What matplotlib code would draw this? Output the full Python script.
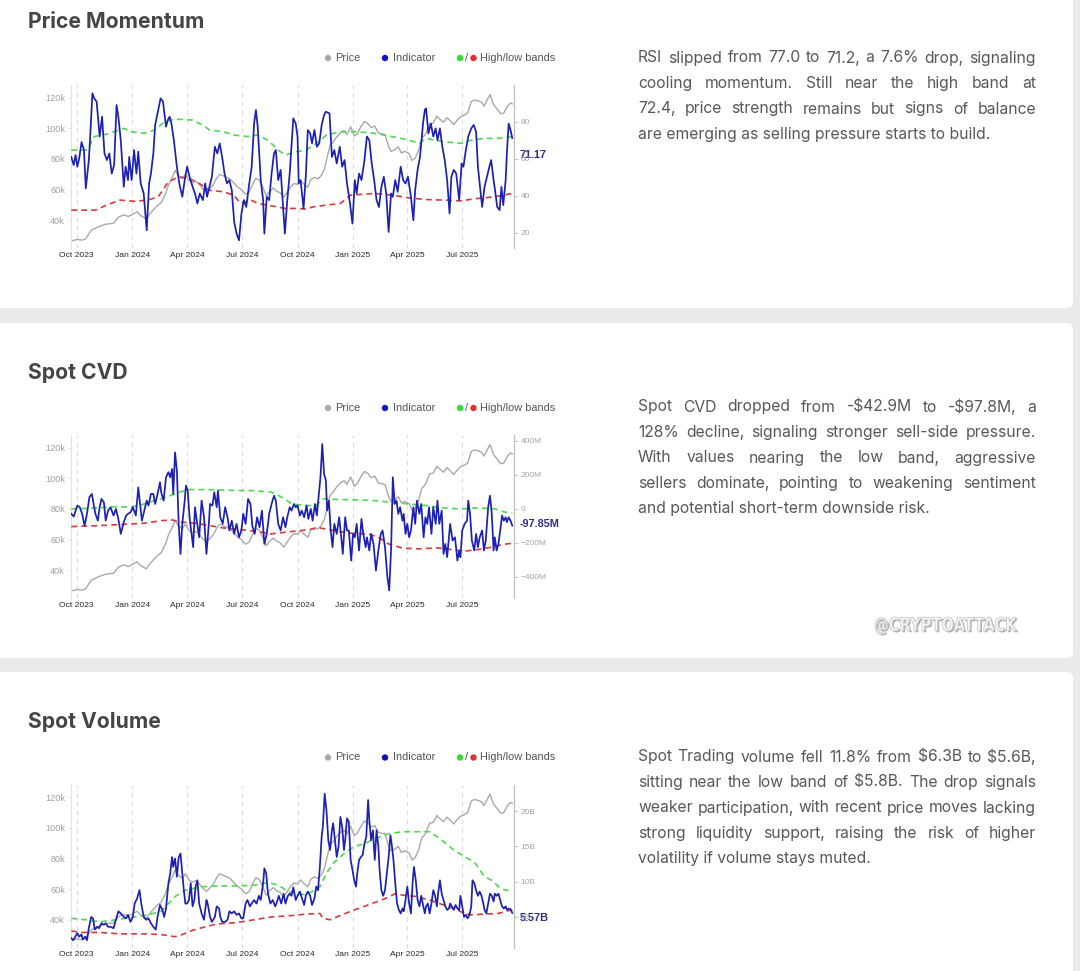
import matplotlib
matplotlib.use('Agg')
import matplotlib.pyplot as plt
from matplotlib.patches import FancyBboxPatch, Circle, PathPatch
from matplotlib.textpath import TextPath
from matplotlib.font_manager import FontProperties
from matplotlib.transforms import Affine2D
import pandas as pd

plt.rcParams['font.family'] = ['Inter', 'DejaVu Sans']

# ---------------- DATA ----------------
START = '2023-09-22'
quarter_ticks = ['2023-10-01', '2024-01-01', '2024-04-01', '2024-07-01', '2024-10-01',
                 '2025-01-01', '2025-04-01', '2025-07-01']
quarter_labels = ['Oct 2023', 'Jan 2024', 'Apr 2024', 'Jul 2024', 'Oct 2024',
                  'Jan 2025', 'Apr 2025', 'Jul 2025']

# BTC price (thousands USD), day offsets from START
price_days = [0, 10, 18, 24, 33, 41, 50, 58, 70, 78, 87, 95, 102, 109, 115, 124, 132, 141, 149, 156,
              161, 168, 172, 178, 184, 189, 195, 201, 206, 212, 218, 224, 229, 235, 241, 246, 252, 258,
              263, 269, 275, 282, 289, 295, 300, 306, 312, 318, 323, 329, 335, 340, 346, 352, 358, 363,
              369, 375, 380, 386, 392, 397, 403, 409, 415, 420, 424, 429, 434, 440, 446, 452, 457, 463,
              469, 474, 480, 486, 492, 497, 503, 509, 514, 520, 526, 530, 536, 542, 547, 553, 560, 565,
              570, 576, 581, 587, 594, 600, 606, 611, 617, 623, 628, 634, 640, 645, 651, 657, 663, 668,
              674, 680, 684, 690, 694, 700, 706, 712, 717, 723, 728, 731]
price_k = [26.5, 27.5, 27.0, 28.0, 33.5, 35.0, 36.5, 37.5, 38.0, 42.0, 43.5, 42.5, 44.0, 45.5, 43.0,
           41.0, 45.0, 49.0, 51.5, 57.0, 63.0, 68.5, 72.5, 69.0, 67.0, 70.0, 66.0, 64.5, 65.5, 63.5,
           60.5, 58.5, 60.5, 63.0, 67.5, 70.0, 69.0, 68.0, 67.0, 64.5, 62.0, 60.0, 57.0, 58.5, 63.0,
           67.5, 66.0, 61.0, 56.0, 59.0, 61.0, 59.0, 58.0, 55.0, 58.5, 61.5, 64.0, 63.5, 66.0, 63.5,
           61.5, 66.5, 68.0, 67.0, 69.5, 74.0, 81.0, 89.0, 91.0, 94.5, 97.0, 98.5, 96.0, 101.0, 95.0,
           96.5, 101.0, 104.5, 103.0, 100.5, 101.5, 97.0, 96.5, 96.0, 88.0, 85.0, 86.0, 88.0, 84.0,
           85.0, 83.5, 79.0, 80.5, 86.0, 93.5, 96.0, 103.0, 103.5, 108.0, 106.0, 104.0, 107.0, 105.0,
           102.5, 105.5, 107.5, 108.5, 110.0, 117.5, 118.5, 118.0, 117.0, 114.5, 119.0, 122.0, 115.5,
           112.5, 109.5, 110.0, 114.5, 116.5, 116.0]

# RSI (Price Momentum indicator)
rsi_days = [0, 4, 7, 10, 13, 17, 21, 24, 29, 31, 35, 38, 42, 47, 51, 55, 59, 63, 67, 71, 75, 78, 82, 87,
            90, 94, 96, 100, 104, 108, 111, 115, 120, 125, 129, 132, 136, 139, 144, 148, 152, 157, 160,
            163, 166, 170, 175, 179, 184, 188, 192, 196, 201, 205, 209, 213, 218, 222, 225, 229, 233,
            238, 242, 246, 250, 254, 258, 262, 266, 270, 274, 278, 282, 286, 290, 295, 299, 303, 306,
            309, 314, 318, 320, 324, 328, 332, 336, 339, 343, 347, 351, 354, 358, 362, 365, 368, 372,
            375, 377, 380, 385, 389, 392, 396, 399, 403, 407, 411, 415, 419, 422, 428, 432, 436, 440,
            445, 449, 453, 457, 462, 466, 470, 473, 477, 481, 486, 490, 494, 498, 502, 506, 510, 514,
            518, 522, 526, 530, 533, 537, 541, 546, 550, 554, 558, 563, 567, 570, 574, 578, 583, 586,
            588, 592, 596, 600, 604, 607, 611, 615, 619, 623, 627, 630, 634, 638, 643, 647, 650, 654,
            658, 663, 667, 671, 674, 678, 681, 685, 689, 693, 696, 700, 702, 706, 710, 713, 716, 720,
            722, 725, 728, 731]
rsi = [61, 56.6, 62, 55.7, 60, 69, 64.7, 44, 59, 70, 95.3, 92.6, 90.8, 72, 82.7, 62.9, 59.3, 62.9, 52,
       56.6, 89, 82.7, 70, 44.9, 55.7, 48.5, 61, 48.5, 64.7, 52, 63.8, 46.7, 41.3, 21.4, 46.7, 52, 62.9,
       78.2, 86.3, 92.6, 90.8, 77.3, 80.9, 82.7, 79, 70, 55.7, 46.7, 39.5, 48.5, 55.7, 50.3, 44.9, 41.3,
       35.9, 41.3, 37.7, 46.7, 39.5, 44.9, 50.3, 66.5, 62.9, 68.3, 61, 52, 46.7, 48.5, 43, 25.9, 19.6,
       16, 30.5, 37.7, 34, 46.7, 55.7, 79, 86.3, 77.3, 48.5, 37.7, 19.6, 39.5, 37.7, 52, 62.9, 64.7,
       48.5, 54, 34, 19.6, 37.7, 52, 66.5, 81.8, 79, 72, 46.7, 48.5, 33.2, 52, 75.5, 73.7, 68.3, 75.5,
       66.5, 68.3, 78.2, 83.6, 85.4, 84.5, 61, 64.7, 57.5, 66.5, 55.7, 59.3, 46.7, 35.9, 25, 48.5,
       41.3, 52, 48.5, 59.3, 72, 70, 57.5, 48.5, 37.7, 34, 44.9, 50.3, 41.3, 20.5, 41.3, 39.5, 48.5,
       42.2, 55.7, 48.5, 46.7, 50.3, 39.5, 26.8, 43, 54, 61, 79, 86.3, 87.2, 73.7, 79, 72, 76.4, 70,
       76.4, 66.5, 59.3, 48.5, 30.5, 50.3, 54, 52, 37.7, 57.5, 55.7, 64.7, 72, 76.4, 78.2, 74.6, 55.7,
       43, 34, 44.9, 50.3, 55.7, 59.3, 48.5, 44, 34, 32.3, 44.9, 35, 48.5, 62.9, 79, 75.5, 71.17]
rsi_hi_days = [0, 27, 38, 58, 87, 98, 121, 138, 155, 172, 201, 218, 229, 252, 269, 292, 309, 326, 343,
               355, 372, 389, 406, 423, 446, 474, 503, 531, 560, 577, 588, 617, 645, 663, 685, 708, 731]
rsi_hi = [64.7, 64.7, 72, 73.2, 76.4, 74.6, 73.7, 75.5, 80, 81.4, 80.9, 78.2, 75.5, 74.6, 72.8, 72,
          72.8, 70, 64.7, 62, 63.8, 64.7, 68.3, 72.8, 74.6, 74.6, 73.7, 72, 70, 68.3, 71, 69.2, 68.3,
          70, 71, 71, 71.9]
rsi_lo_days = [0, 41, 58, 81, 104, 127, 144, 161, 178, 195, 212, 229, 252, 269, 281, 298, 309, 332,
               355, 377, 389, 400, 423, 446, 463, 503, 531, 560, 588, 617, 645, 674, 702, 731]
rsi_lo = [32.3, 32.3, 35, 37.7, 37.1, 37.7, 39.5, 47.6, 50.3, 49.4, 46.7, 43, 42.2, 40.4, 35.9, 37.7,
          35.9, 34.6, 33.2, 33.2, 32.8, 34, 35, 35.9, 40.4, 41.3, 40.4, 38.9, 38, 37.7, 37.3, 38.6,
          39.5, 41.3]

# Spot CVD (millions USD)
cvd_days = [0, 4, 10, 14, 18, 22, 26, 30, 34, 36, 40, 44, 47, 50, 54, 57, 61, 65, 70, 74, 78, 82, 87,
            91, 94, 98, 102, 107, 111, 114, 117, 121, 125, 128, 132, 136, 139, 143, 147, 149, 153, 157,
            161, 164, 167, 169, 172, 175, 178, 181, 184, 188, 190, 193, 196, 200, 202, 205, 208, 212,
            216, 220, 224, 228, 230, 234, 237, 241, 243, 247, 251, 255, 259, 262, 266, 270, 274, 278,
            282, 285, 289, 293, 297, 300, 304, 308, 312, 316, 320, 324, 328, 332, 336, 339, 343, 347,
            351, 355, 358, 362, 365, 369, 372, 375, 379, 382, 386, 390, 393, 397, 400, 404, 407, 411,
            413, 416, 419, 422, 424, 427, 430, 433, 436, 440, 444, 448, 450, 454, 457, 460, 464, 467,
            470, 473, 477, 481, 484, 488, 490, 494, 497, 501, 505, 509, 513, 516, 520, 524, 527, 530,
            533, 536, 539, 542, 545, 549, 551, 554, 557, 560, 563, 567, 570, 573, 577, 580, 584, 587,
            590, 593, 597, 600, 604, 607, 610, 614, 617, 620, 623, 626, 628, 632, 636, 640, 643, 645,
            648, 652, 656, 658, 661, 664, 668, 671, 674, 677, 681, 684, 687, 691, 694, 697, 700, 702,
            705, 708, 711, 714, 717, 720, 722, 725, 728, 731]
cvd = [-29, -45, 20, 10, -29, -98, -29, 69, 88, 49, -29, -69, 10, 59, 39, -69, -10, 10, -39, 0, -59,
       -147, -78, -39, -29, -20, 10, -39, 127, 29, -69, -10, 49, 20, 88, 88, 29, 88, 157, 98, 49, 186,
       216, 186, 235, 88, 333, 225, -88, -265, -88, 49, 137, 108, -49, -167, -225, 10, -69, -167, 49,
       -49, -265, -88, 29, 20, 98, 10, 108, -49, -88, 10, -49, -127, -69, -147, -88, -167, -127, -29,
       -88, 59, 29, -98, -147, -49, -108, -10, -206, -147, -29, 29, 78, 49, -88, -127, -49, -108, -49,
       10, -10, 29, 10, 20, -39, -10, -49, 20, -59, 0, -69, 29, -39, 108, 186, 382, 206, 167, -10, 49,
       -127, -225, -88, -147, -49, -186, -265, -49, -127, -127, -304, -147, -167, -88, -245, -59,
       -147, -225, -167, -245, -147, -206, -363, -245, -147, -127, -225, -402, -480, -245, 186, 29,
       49, -29, 10, -69, -29, -147, -88, -167, -127, 10, -88, 49, -29, 29, -167, -49, -88, 10, -147,
       10, -88, 49, -88, -10, -265, -206, -284, -167, -88, -186, -167, -304, -245, -284, -127, -88,
       -69, 49, -29, -186, -245, -147, -225, -167, -127, -245, -186, 10, 78, -29, -245, -167, -245,
       -206, -127, -39, -69, -49, -78, -49, -69, -97.85]
cvd_hi_days = [0, 47, 75, 98, 121, 138, 161, 178, 195, 218, 246, 275, 303, 332, 349, 366, 389, 406,
               417, 446, 474, 503, 531, 560, 588, 617, 645, 674, 702, 720, 731]
cvd_hi = [0, 6, 14, 10, 29, 49, 73, 98, 114, 114, 112, 108, 108, 98, 69, 29, 20, 20, 59, 55, 53, 49,
          39, 29, 20, 6, 0, 6, 0, -20, -25]
cvd_lo_days = [0, 47, 81, 121, 149, 167, 184, 206, 229, 252, 286, 315, 332, 355, 389, 412, 434, 463,
               492, 509, 526, 549, 577, 606, 634, 651, 674, 697, 714, 731]
cvd_lo = [-104, -98, -92, -84, -69, -65, -78, -84, -98, -112, -124, -137, -147, -137, -124, -112, -127,
          -143, -147, -167, -206, -231, -235, -229, -241, -249, -239, -225, -210, -202]

# Spot volume (billions USD)
vol_days = [0, 3, 6, 10, 13, 17, 19, 23, 26, 29, 33, 36, 39, 43, 46, 50, 54, 57, 61, 65, 70, 74, 78,
            82, 87, 91, 94, 98, 102, 105, 109, 113, 116, 120, 124, 128, 132, 136, 140, 143, 147, 151,
            154, 157, 161, 164, 167, 169, 172, 175, 178, 181, 184, 186, 189, 192, 195, 198, 201, 204,
            206, 209, 212, 216, 220, 224, 226, 230, 233, 238, 241, 245, 247, 250, 255, 259, 262, 266,
            270, 274, 278, 282, 285, 289, 292, 296, 299, 303, 307, 311, 314, 318, 320, 323, 326, 330,
            334, 338, 340, 344, 348, 352, 355, 359, 362, 365, 368, 372, 375, 379, 381, 386, 389, 392,
            396, 399, 403, 406, 409, 412, 415, 417, 420, 423, 426, 429, 432, 434, 437, 440, 443, 446,
            449, 452, 454, 457, 460, 463, 466, 469, 472, 474, 477, 480, 483, 486, 489, 492, 494, 497,
            500, 503, 506, 509, 511, 514, 517, 520, 523, 526, 529, 531, 534, 537, 540, 543, 546, 549,
            551, 554, 557, 560, 563, 566, 568, 571, 574, 577, 580, 583, 586, 588, 591, 594, 597, 600,
            603, 606, 608, 611, 614, 617, 620, 623, 626, 628, 631, 634, 637, 640, 643, 645, 648, 651,
            654, 657, 660, 663, 665, 668, 671, 674, 677, 680, 683, 685, 688, 691, 694, 697, 700, 702,
            705, 708, 711, 714, 717, 720, 722, 725, 728, 731]
vol = [2.0, 1.7, 2.1, 2.7, 2.2, 2.5, 1.8, 2.2, 1.7, 3.4, 5.0, 4.8, 3.2, 3.6, 3.4, 4.1, 3.9, 4.1, 3.6,
       3.6, 3.4, 4.6, 5.8, 5.5, 5.0, 4.8, 5.3, 4.3, 5.0, 6.9, 7.6, 8.8, 6.9, 5.0, 4.6, 4.8, 4.1, 3.6,
       3.2, 5.0, 6.7, 6.0, 5.0, 6.2, 9.8, 11.2, 13.5, 12.1, 13.3, 10.7, 13.5, 14.0, 11.2, 9.3, 6.9,
       6.9, 7.4, 9.8, 6.5, 7.4, 9.3, 10.2, 6.9, 5.5, 4.6, 7.4, 6.9, 5.0, 4.3, 5.0, 6.5, 6.2, 5.0, 4.3,
       4.3, 4.6, 5.8, 5.5, 5.8, 5.3, 5.5, 4.8, 4.8, 6.9, 7.4, 6.5, 6.9, 7.4, 6.9, 8.0, 7.4, 9.8, 11.9,
       11.2, 8.3, 6.9, 7.4, 6.5, 6.9, 8.0, 6.9, 8.3, 6.9, 8.0, 8.3, 8.0, 9.2, 7.4, 8.0, 8.6, 8.0, 6.7,
       8.1, 8.6, 8.0, 6.7, 7.6, 9.3, 8.8, 12.1, 16.4, 17.8, 22.5, 20.1, 15.9, 14.5, 17.3, 18.3, 15.9,
       13.5, 15.0, 19.2, 17.8, 14.5, 15.9, 19.0, 18.5, 13.1, 11.7, 10.2, 9.3, 11.2, 13.1, 13.5, 13.8,
       15.4, 16.4, 21.6, 18.7, 15.9, 17.3, 13.1, 17.3, 15.0, 11.7, 8.8, 8.0, 8.8, 11.2, 13.5, 16.6,
       15.4, 13.1, 9.8, 6.9, 6.0, 5.5, 6.2, 5.8, 7.4, 9.3, 6.9, 5.5, 10.2, 12.1, 10.2, 7.4, 6.5, 8.0,
       6.7, 5.5, 6.5, 6.9, 5.5, 6.9, 8.8, 8.0, 6.5, 8.3, 10.2, 8.3, 7.4, 6.5, 6.0, 6.2, 6.9, 6.5, 6.0,
       6.7, 6.2, 6.0, 8.0, 6.5, 5.0, 5.3, 4.8, 5.3, 6.5, 10.2, 9.8, 8.8, 8.0, 8.6, 8.0, 6.9, 6.0, 5.5,
       6.9, 8.3, 8.0, 7.2, 8.3, 8.0, 8.3, 7.4, 6.5, 6.2, 6.5, 6.0, 6.2, 6.1, 5.57]
vol_hi_days = [0, 24, 47, 75, 104, 127, 149, 161, 172, 189, 218, 246, 275, 303, 326, 343, 360, 389,
               412, 423, 434, 452, 469, 486, 503, 526, 549, 577, 594, 603, 617, 634, 657, 668, 685,
               697, 711, 720, 731]
vol_hi = [4.8, 4.6, 4.3, 4.6, 5.0, 5.3, 5.8, 6.9, 7.9, 8.8, 9.3, 9.4, 9.4, 9.5, 9.9, 9.5, 8.6, 8.1,
          9.3, 11.2, 12.6, 14.0, 15.0, 15.4, 16.1, 16.8, 17.1, 17.1, 17.1, 16.6, 15.7, 14.5, 13.3,
          12.8, 10.7, 10.2, 9.1, 8.8, 8.7]
vol_lo_days = [0, 18, 47, 81, 121, 149, 172, 184, 201, 218, 241, 275, 303, 332, 366, 389, 412, 417,
               429, 440, 463, 492, 520, 537, 549, 571, 594, 617, 640, 651, 663, 685, 708, 720, 731]
vol_lo = [3.0, 2.8, 2.8, 2.6, 2.6, 2.5, 2.2, 2.5, 3.1, 3.5, 4.0, 4.2, 4.6, 5.0, 5.2, 5.4, 5.5, 4.8,
          4.6, 5.0, 5.8, 6.7, 7.6, 8.3, 8.1, 7.9, 7.4, 6.7, 6.0, 5.5, 5.3, 5.4, 5.5, 5.8, 6.0]

titles = ['Price Momentum', 'Spot CVD', 'Spot Volume']
paragraphs = [
    ['RSI slipped from 77.0 to 71.2, a 7.6% drop, signaling',
     'cooling momentum. Still near the high band at',
     '72.4, price strength remains but signs of balance',
     'are emerging as selling pressure starts to build.'],
    ['Spot CVD dropped from -$42.9M to -$97.8M, a',
     '128% decline, signaling stronger sell-side pressure.',
     'With values nearing the low band, aggressive',
     'sellers dominate, pointing to weakening sentiment',
     'and potential short-term downside risk.'],
    ['Spot Trading volume fell 11.8% from $6.3B to $5.6B,',
     'sitting near the low band of $5.8B. The drop signals',
     'weaker participation, with recent price moves lacking',
     'strong liquidity support, raising the risk of higher',
     'volatility if volume stays muted.'],
]
legend_labels = ['Price', 'Indicator', 'High/low bands']
price_ticks = [40, 60, 80, 100, 120]
watermark = '@CRYPTOATTACK'

# ---------------- STYLE / LAYOUT ----------------
W, H = 1080, 971
C_PRICE = '#a9a9a9'
C_IND = '#1c20b4'
C_HI = '#4fd94f'
C_LO = '#d93a3a'
C_LAST = '#2d2d8c'
MINUS = '\u2212'
CHART_FONT = ['Liberation Sans', 'DejaVu Sans']

start = pd.Timestamp(START)


def dates(days):
    return start + pd.to_timedelta(days, unit='D')


fig = plt.figure(figsize=(W / 100, H / 100), dpi=100)
fig.patch.set_facecolor('#e8eaeb')
bg = fig.add_axes([0, 0, 1, 1])
bg.set_xlim(0, W)
bg.set_ylim(H, 0)
bg.axis('off')

for y0, y1 in [(-20, 308), (323, 658), (672, 990)]:
    bg.add_patch(FancyBboxPatch((-20, y0), 1093, y1 - y0,
                                boxstyle='round,pad=0,rounding_size=6',
                                fc='white', ec='none'))


def px_axes(x0, y0, x1, y1):
    return fig.add_axes([x0 / W, 1 - y1 / H, (x1 - x0) / W, (y1 - y0) / H])


def fmt_m(v):
    if v == 0:
        return '0'
    return (MINUS if v < 0 else '') + f'{abs(v):g}M'


charts = [
    dict(dy=0, title_y=22, ind=(rsi_days, rsi), hi=(rsi_hi_days, rsi_hi), lo=(rsi_lo_days, rsi_lo),
         ylim=(11.7, 99.8), ticks=[20, 40, 60, 80], fmt=lambda v: f'{v:g}',
         last=f'{rsi[-1]:.2f}', last_y=155),
    dict(dy=350, title_y=373, ind=(cvd_days, cvd), hi=(cvd_hi_days, cvd_hi), lo=(cvd_lo_days, cvd_lo),
         ylim=(-526, 435), ticks=[-400, -200, 0, 200, 400], fmt=fmt_m,
         last=f'{cvd[-1]:.2f}M', last_y=524),
    dict(dy=699.5, title_y=722, ind=(vol_days, vol), hi=(vol_hi_days, vol_hi),
         lo=(vol_lo_days, vol_lo),
         ylim=(0.62, 23.8), ticks=[5, 10, 15, 20], fmt=lambda v: f'{v:g}B',
         last=f'{vol[-1]:.2f}B', last_y=918),
]

xlim = (start, start + pd.Timedelta(days=733))
tick_dates = pd.to_datetime(quarter_ticks)

for i, c in enumerate(charts):
    dy = c['dy']
    ax = px_axes(71.3, 85 + dy, 513.5, 248.3 + dy)
    ax.set_facecolor('none')
    ax.plot(dates(price_days), price_k, color=C_PRICE, lw=1.0, zorder=2)
    ax.set_ylim(21.7, 128.3)
    ax.set_yticks(price_ticks)
    ax.set_yticklabels([f'{v}k' for v in price_ticks], family=CHART_FONT)
    ax.set_xlim(*xlim)
    ax.set_xticks(tick_dates)
    ax.set_xticklabels(quarter_labels, family=CHART_FONT)
    ax.grid(axis='x', color='#dcdcdc', lw=0.8, ls=(0, (4, 4)))
    ax.grid(axis='y', visible=False)
    for s in ['top', 'bottom', 'right']:
        ax.spines[s].set_visible(False)
    ax.spines['left'].set_color('#e2e2e2')
    ax.spines['left'].set_linewidth(0.8)
    ax.tick_params(axis='y', length=2, width=0.6, color='#e2e2e2', labelsize=6.6,
                   labelcolor='#a0a0a0', pad=2.5)
    ax.tick_params(axis='x', length=0, labelsize=6.1, labelcolor='#2a2a2a', pad=2.5)

    ax2 = ax.twinx()
    ax2.plot(dates(c['hi'][0]), c['hi'][1], color=C_HI, lw=1.2, ls=(0, (3.5, 2.5)), zorder=3)
    ax2.plot(dates(c['lo'][0]), c['lo'][1], color=C_LO, lw=1.2, ls=(0, (3.5, 2.5)), zorder=3)
    ax2.plot(dates(c['ind'][0]), c['ind'][1], color=C_IND, lw=1.25, zorder=4,
             solid_joinstyle='round')
    ax2.set_ylim(*c['ylim'])
    ax2.set_yticks(c['ticks'])
    ax2.set_yticklabels([c['fmt'](v) for v in c['ticks']], family=CHART_FONT)
    ax2.set_xlim(*xlim)
    for s in ['top', 'bottom', 'left']:
        ax2.spines[s].set_visible(False)
    ax2.spines['right'].set_color('#bdbdbd')
    ax2.spines['right'].set_linewidth(0.9)
    ax2.tick_params(axis='y', length=3, width=0.6, color='#bdbdbd', labelsize=6.0,
                    labelcolor='#a4a4a4', pad=2)

    # last value label
    bg.text(519.5, c['last_y'], c['last'], ha='left', va='center', fontsize=7.8,
            color=C_LAST, fontweight='bold', family=CHART_FONT, zorder=10)

    # title
    bg.text(28, c['title_y'], titles[i], ha='left', va='center', fontsize=15.2,
            fontweight='bold', color='#454545')

    # legend
    ly = 58 + dy
    lkw = dict(ha='left', va='center', fontsize=7.9, color='#555555', family=CHART_FONT)
    bg.add_patch(Circle((328, ly), 3.2, color='#a9a9a9', lw=0))
    bg.text(335.5, ly, legend_labels[0], **lkw)
    bg.add_patch(Circle((385, ly), 3.2, color='#1010c8', lw=0))
    bg.text(393, ly, legend_labels[1], **lkw)
    bg.add_patch(Circle((460, ly), 3.2, color='#33dd33', lw=0))
    bg.text(464.6, ly, '/', **lkw)
    bg.add_patch(Circle((473.5, ly), 3.2, color='#e23030', lw=0))
    bg.text(480.5, ly, legend_labels[2], **lkw)

# ---------------- paragraphs (justified) ----------------
renderer = fig.canvas.get_renderer()
X0, X1 = 638, 1036
BASE = 10.0
probe = []
for p in paragraphs:
    for line in p[:-1]:
        t = bg.text(0, 0, line, fontsize=BASE, parse_math=False)
        probe.append(t.get_window_extent(renderer).width)
        t.remove()
FS = BASE * (X1 - X0) / max(probe)

par_y0 = [58, 407, 757]
LINE = 25.5
for p, y0 in zip(paragraphs, par_y0):
    for k, line in enumerate(p):
        y = y0 + k * LINE
        if k == len(p) - 1:
            bg.text(X0, y, line, ha='left', va='center', fontsize=FS, color='#585858',
                    parse_math=False)
            continue
        words = line.split(' ')
        ts = [bg.text(0, y, w, ha='left', va='center', fontsize=FS, color='#585858',
                      parse_math=False) for w in words]
        widths = [t.get_window_extent(renderer).width for t in ts]
        gap = (X1 - X0 - sum(widths)) / (len(words) - 1)
        x = X0
        for t, wd in zip(ts, widths):
            t.set_x(x)
            x += wd + gap

# ---------------- watermark ----------------
tp = TextPath((0, 0), watermark, size=20,
              prop=FontProperties(family='DejaVu Sans', weight='bold'))
ext = tp.get_extents()
for off, fc, ec in [((1.5, 1.5), '#b0b0b0', 'none'), ((0, 0), '#f6f6f6', '#c8c8c8')]:
    tr = (Affine2D().translate(-ext.x0, -ext.y0)
          .scale(142 / ext.width, -17 / ext.height)
          .translate(875 + off[0], 634 + off[1]) + bg.transData)
    bg.add_patch(PathPatch(tp, transform=tr, fc=fc, ec=ec, lw=0.6, zorder=5))

fig.savefig('out.png', dpi=100, facecolor=fig.get_facecolor())
